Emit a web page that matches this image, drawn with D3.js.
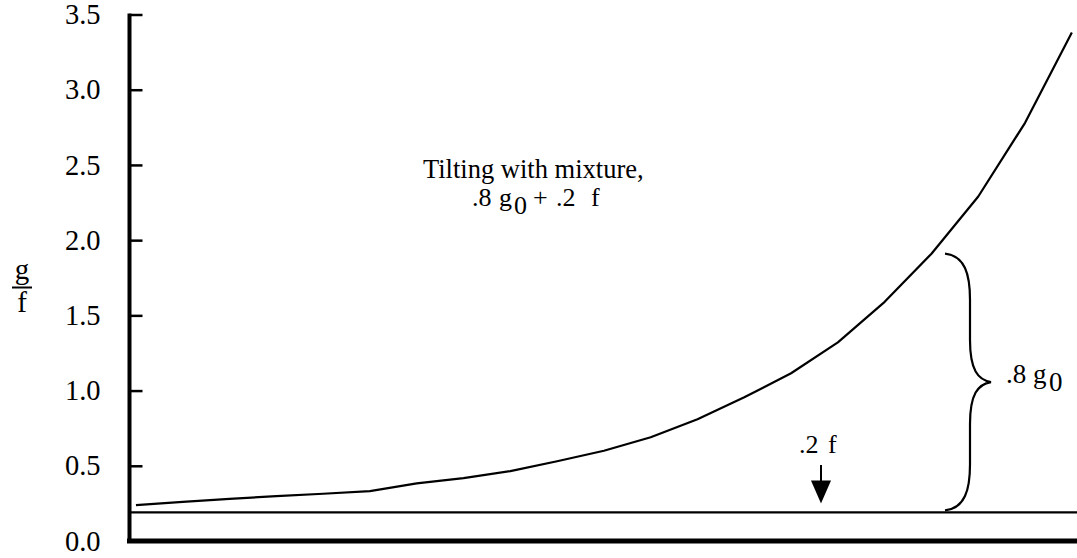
<!DOCTYPE html>
<html>
<head>
<meta charset="utf-8">
<script src="https://cdn.jsdelivr.net/npm/d3@7"></script>
<style>
  html, body { margin: 0; padding: 0; background: #fff; }
  svg { display: block; }
  text { font-family: "Liberation Serif", "Times New Roman", serif; fill: #000; }
</style>
</head>
<body>
<svg id="chart" width="1077" height="558"></svg>
<script>
// Steps along the horizontal axis (unlabelled)
const steps = [0, 1, 2, 3, 4, 5, 6, 7, 8, 9, 10, 11, 12, 13, 14, 15, 16, 17, 18, 19, 20];
// Ratio g/f under tilting with the mixture .8 g0 + .2 f
const ratioValues = [0.239, 0.260, 0.280, 0.298, 0.314, 0.332, 0.383, 0.418, 0.465, 0.530,
                     0.600, 0.690, 0.810, 0.955, 1.115, 1.320, 1.590, 1.910, 2.290, 2.780, 3.380];
// Floor contributed by the .2 f component
const floorValue = 0.19;
// Y tick values
const yTicks = [0.0, 0.5, 1.0, 1.5, 2.0, 2.5, 3.0, 3.5];

const svg = d3.select("#chart");

const x = d3.scaleLinear().domain([-0.17, 20.11]).range([128, 1077]);
const y = d3.scaleLinear().domain([0, 3.5]).range([541, 14.5]);

// Left axis with inward ticks
const yAxis = d3.axisLeft(y)
  .tickValues(yTicks)
  .tickFormat(d3.format(".1f"))
  .tickSizeInner(-13)
  .tickSizeOuter(0)
  .tickPadding(29);

const gy = svg.append("g")
  .attr("transform", "translate(129.5,0)")
  .call(yAxis);
gy.attr("font-size", null).attr("font-family", null);
gy.select(".domain").attr("stroke", "#000").attr("stroke-width", 4)
  .attr("d", `M0,${y(3.5) - 1}V${y(0) + 2}`);
gy.selectAll(".tick line").attr("stroke", "#000").attr("stroke-width", 2.5);
gy.selectAll(".tick text")
  .style("font-size", "28.5px")
  .style("font-family", "'Liberation Serif', serif")
  .attr("fill", "#000");

// Bottom axis (no ticks)
const xAxis = d3.axisBottom(x).tickValues([]).tickSizeOuter(0);
const gx = svg.append("g")
  .attr("transform", `translate(0,${y(0)})`)
  .call(xAxis);
gx.select(".domain").attr("stroke", "#000").attr("stroke-width", 5)
  .attr("d", `M127,0H1077`);

// Horizontal floor line
svg.append("line")
  .attr("x1", x.range()[0]).attr("x2", x.range()[1])
  .attr("y1", y(floorValue)).attr("y2", y(floorValue))
  .attr("stroke", "#000").attr("stroke-width", 2.2);

// Ratio curve
const line = d3.line()
  .x((d, i) => x(steps[i]))
  .y(d => y(d));
svg.append("path")
  .datum(ratioValues)
  .attr("d", line)
  .attr("fill", "none")
  .attr("stroke", "#000")
  .attr("stroke-width", 2.2)
  .attr("stroke-linejoin", "round");

// Y axis label: fraction g / f
const fx = 22;
svg.append("text").attr("x", fx).attr("y", 279).attr("text-anchor", "middle")
  .style("font-size", "29px").text("g");
svg.append("line").attr("x1", fx - 10).attr("x2", fx + 10).attr("y1", 287.5).attr("y2", 287.5)
  .attr("stroke", "#000").attr("stroke-width", 2);
svg.append("text").attr("x", fx).attr("y", 312).attr("text-anchor", "middle")
  .style("font-size", "29px").text("f");

// Annotation in the plot area
svg.append("text").attr("x", 423).attr("y", 178).style("font-size", "26.5px")
  .text("Tilting with mixture,");
const mix = svg.append("text").attr("y", 206).style("font-size", "26px");
mix.append("tspan").attr("x", 472).text(".8");
mix.append("tspan").attr("x", 499).text("g");
mix.append("tspan").attr("x", 514).attr("dy", 8).text("0");
mix.append("tspan").attr("x", 533).attr("dy", -8).text("+");
mix.append("tspan").attr("x", 556).text(".2");
mix.append("tspan").attr("x", 591).text("f");

// Brace spanning the .8 g0 part
const braceTop = y(ratioValues[17]);
const braceBot = y(floorValue) - 2;
const braceMid = (braceTop + braceBot) / 2;
const bx0 = 945, bx1 = 970, bxt = 991;
const bracePath = `M${bx0},${braceTop}` +
  ` C${bx0 + 20},${braceTop + 2} ${bx1},${braceTop + 21} ${bx1},${braceTop + 46}` +
  ` L${bx1},${braceMid - 42}` +
  ` C${bx1},${braceMid - 12} ${bx1 + 8},${braceMid - 2} ${bxt},${braceMid}` +
  ` C${bx1 + 8},${braceMid + 2} ${bx1},${braceMid + 12} ${bx1},${braceMid + 42}` +
  ` L${bx1},${braceBot - 46}` +
  ` C${bx1},${braceBot - 21} ${bx0 + 20},${braceBot - 2} ${bx0},${braceBot}`;
svg.append("path").attr("d", bracePath)
  .attr("fill", "none").attr("stroke", "#000").attr("stroke-width", 2.2);

const g0 = svg.append("text").attr("y", 383).style("font-size", "27px");
g0.append("tspan").attr("x", 1006).text(".8");
g0.append("tspan").attr("x", 1033).text("g");
g0.append("tspan").attr("x", 1049).attr("dy", 8).text("0");

// .2 f label with arrow pointing at the floor line
const ax = 821;
const tipY = y(floorValue) - 9;
const lf = svg.append("text").attr("y", 453).style("font-size", "26px");
lf.append("tspan").attr("x", 799).text(".2");
lf.append("tspan").attr("x", 828).text("f");
svg.append("line").attr("x1", ax).attr("x2", ax).attr("y1", 465).attr("y2", tipY - 20)
  .attr("stroke", "#000").attr("stroke-width", 2);
svg.append("path")
  .attr("d", `M${ax - 10},${tipY - 23}L${ax + 10},${tipY - 23}L${ax},${tipY}Z`)
  .attr("fill", "#000");
</script>
</body>
</html>
